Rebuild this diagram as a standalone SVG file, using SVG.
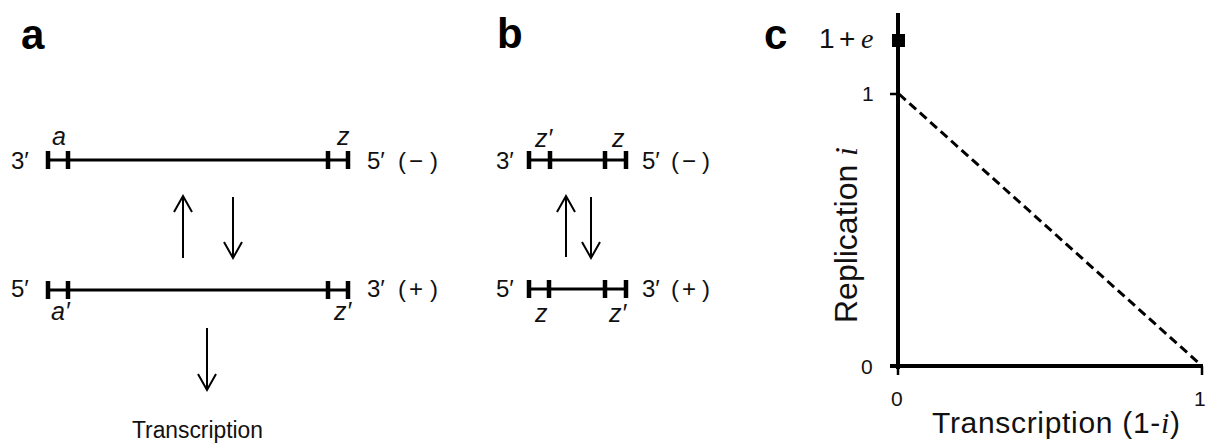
<svg xmlns="http://www.w3.org/2000/svg" width="1206" height="443" viewBox="0 0 1206 443">
<style>
text{font-family:"Liberation Sans",Arial,sans-serif;fill:#111}
.panel{font-size:42px;font-weight:bold;fill:#000}
.end{font-size:24px}
.lab{font-size:25px;font-style:italic}
.ser{font-family:"Liberation Serif","Times New Roman",serif;font-style:italic}
.strand{stroke:#000;stroke-width:3;fill:none}
.tick{stroke:#000;stroke-width:4.5;fill:none}
.arrow{stroke:#000;stroke-width:2;fill:none;marker-end:url(#head)}
.axis{stroke:#000;stroke-width:4;fill:none}
.atick{stroke:#000;stroke-width:2.5;fill:none}
.dash{stroke:#000;stroke-width:3;stroke-dasharray:9 5;fill:none}
.num{font-size:21px}
</style>
<defs>
<marker id="head" markerUnits="userSpaceOnUse" viewBox="-18 -11 20 22" markerWidth="20" markerHeight="22" refX="0" refY="0" orient="auto" overflow="visible">
<path d="M-16,-9 L0,0 L-16,9" fill="none" stroke="#000" stroke-width="2"/>
</marker>
</defs>

<g id="panel-a">
<text class="panel" x="21" y="49">a</text>
<g id="a-minus-strand">
<line class="strand" x1="47" y1="160" x2="349" y2="160"/>
<path class="tick" d="M48,151V169M68,151V169M328,151V169M348,151V169"/>
<text class="end" x="11" y="169">3′</text>
<text class="end" x="367" y="169">5′</text>
<text class="end" x="398" y="169">(</text>
<text class="end" x="409" y="169">−</text>
<text class="end" x="430" y="169">)</text>
<text class="lab" x="52" y="145">a</text>
<text class="lab" x="337" y="145">z</text>
</g>
<g id="a-plus-strand">
<line class="strand" x1="47" y1="290" x2="349" y2="290"/>
<path class="tick" d="M48,281V299M68,281V299M328,281V299M348,281V299"/>
<text class="end" x="11" y="297">5′</text>
<text class="end" x="367" y="297">3′</text>
<text class="end" x="398" y="297">(</text>
<text class="end" x="409" y="297">+</text>
<text class="end" x="430" y="297">)</text>
<text class="lab" x="51" y="320">a′</text>
<text class="lab" x="334" y="320">z′</text>
</g>
<text id="a-transcription" x="132" y="438" font-size="23" textLength="131" lengthAdjust="spacingAndGlyphs">Transcription</text>
</g>

<g id="panel-b">
<text class="panel" x="497" y="48">b</text>
<g id="b-minus-strand">
<line class="strand" x1="528" y1="160" x2="627" y2="160" stroke-width="2.5"/>
<path class="tick" d="M529,151V169M550,151V169M605,151V169M626,151V169"/>
<text class="end" x="496" y="169">3′</text>
<text class="end" x="642" y="169">5′</text>
<text class="end" x="671" y="169">(</text>
<text class="end" x="682" y="169">−</text>
<text class="end" x="702" y="169">)</text>
<text class="lab" x="535" y="147">z′</text>
<text class="lab" x="612" y="147">z</text>
</g>
<g id="b-plus-strand">
<line class="strand" x1="528" y1="289" x2="627" y2="289" stroke-width="2.5"/>
<path class="tick" d="M529,280V298M549,280V298M605,280V298M626,280V298"/>
<text class="end" x="496" y="297">5′</text>
<text class="end" x="642" y="297">3′</text>
<text class="end" x="671" y="297">(</text>
<text class="end" x="682" y="297">+</text>
<text class="end" x="702" y="297">)</text>
<text class="lab" x="535" y="322">z</text>
<text class="lab" x="609" y="322">z′</text>
</g>
</g>

<g id="connectors">
<line class="arrow" x1="183" y1="258" x2="183" y2="196"/>
<line class="arrow" x1="233" y1="197" x2="233" y2="258"/>
<line class="arrow" x1="207" y1="328" x2="207" y2="390"/>
<line class="arrow" x1="566" y1="257" x2="566" y2="196"/>
<line class="arrow" x1="591" y1="197" x2="591" y2="258"/>
</g>

<g id="panel-c">
<text class="panel" x="764" y="49">c</text>
<line class="axis" x1="898" y1="13" x2="898" y2="369"/>
<line class="axis" x1="890" y1="366" x2="1203" y2="366"/>
<path class="atick" d="M890,94H898M898,366V375M1202,366V375"/>
<line class="dash" x1="899" y1="94" x2="1201" y2="365"/>
<rect x="892" y="34" width="13" height="13" fill="#000"/>
<text x="819" y="48" font-size="28">1</text>
<text x="839" y="48" font-size="28">+</text>
<text class="ser" x="861" y="48" font-size="28">e</text>
<text class="num" x="862" y="101">1</text>
<text class="num" x="861" y="374">0</text>
<text class="num" x="891" y="406">0</text>
<text class="num" x="1194" y="406">1</text>
<text x="932" y="433" font-size="30" textLength="248" lengthAdjust="spacing">Transcription (1-<tspan class="ser">i</tspan>)</text>
<text transform="translate(857,323) rotate(-90)" x="0" y="0" font-size="32" textLength="176" lengthAdjust="spacing">Replication <tspan class="ser">i</tspan></text>
</g>
</svg>
